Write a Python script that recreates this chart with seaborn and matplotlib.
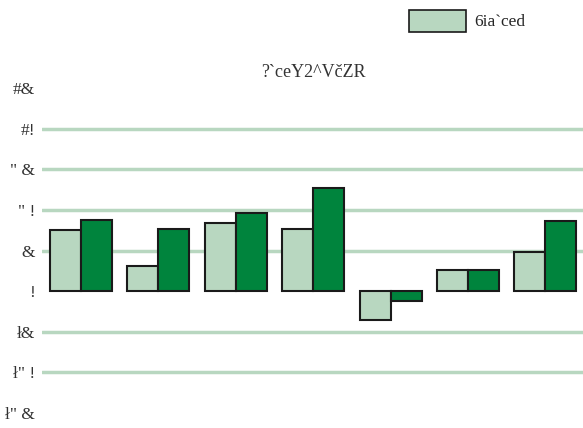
import pandas as pd
import numpy as np
import matplotlib
matplotlib.use("Agg")
import matplotlib.pyplot as plt
import seaborn as sns

# data
categories = ["1", "2", "3", "4", "5", "6", "7"]
series_a = [7.5, 3.1, 8.4, 7.7, -3.5, 2.6, 4.8]
series_b = [8.8, 7.6, 9.6, 12.7, -1.2, 2.6, 8.7]
series_names = ["6ia`ced", "b"]
y_ticks = [25, 20, 15, 10, 5, 0, -5, -10, -15]
y_tick_labels = ["#&", "#!", "\" &", "\" !", "&", "!", "ł&", "ł\" !", "ł\" &"]
title = "?`ceY2^VčZR"

light = "#b8d7c0"
dark = "#00843d"

df = pd.DataFrame({
    "cat": categories * 2,
    "value": series_a + series_b,
    "series": [series_names[0]] * len(categories) + [series_names[1]] * len(categories),
})

sns.set_style("white")
plt.rcParams["font.family"] = ["Liberation Serif", "DejaVu Serif"]

fig = plt.figure(figsize=(5.83, 4.28), dpi=100)
ax = fig.add_axes([0.072, 0.035, 0.93, 0.759])

sns.barplot(data=df, x="cat", y="value", hue="series", palette=[light, dark],
            saturation=1, width=0.8, edgecolor="#1a1a1a", linewidth=1.5,
            ax=ax, legend=False, zorder=3)

ax.set_ylim(-15, 25)
ax.set_yticks(y_ticks)
ax.set_yticklabels(y_tick_labels, fontsize=12.5, color="#333333")
ax.tick_params(axis="y", length=0, pad=5)
ax.set_xticks([])
ax.set_xlabel("")
ax.set_ylabel("")
for s in ax.spines.values():
    s.set_visible(False)

# light green gridlines, none at the edges or at zero
ax.yaxis.grid(True, color=light, linewidth=2.5, zorder=0)
ax.set_axisbelow(True)
for val, gl in zip(ax.get_yticks(), ax.get_ygridlines()):
    if val in (25, 0, -15):
        gl.set_visible(False)

ax.set_title(title, fontsize=13, color="#333333", pad=8)

handles = [plt.Rectangle((0, 0), 1, 1, facecolor=light, edgecolor="#1a1a1a", linewidth=1.2)]
fig.legend(handles, [series_names[0]], loc="upper left", bbox_to_anchor=(0.701, 0.977),
           frameon=False, fontsize=12.5, handlelength=3.3, handleheight=1.55,
           handletextpad=0.45, borderpad=0, borderaxespad=0)

fig.savefig("out.png", dpi=100)
